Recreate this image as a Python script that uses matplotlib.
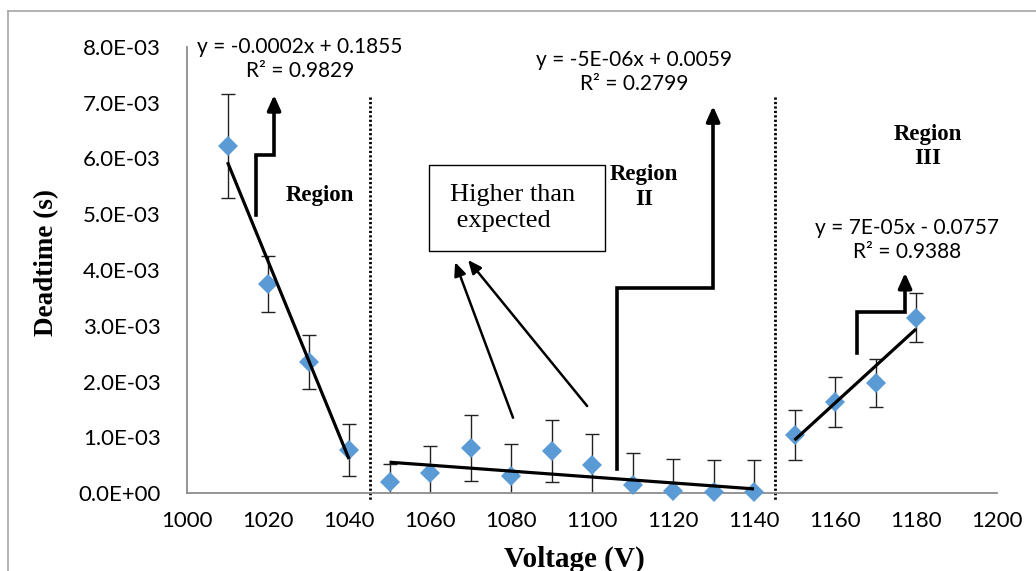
import numpy as np
import matplotlib
matplotlib.use('Agg')
import matplotlib.pyplot as plt
from matplotlib.patches import Rectangle

# voltage (V) and deadtime (s) for the three regions
volt_1 = [1010, 1020, 1030, 1040]
dead_1 = [6.22e-3, 3.75e-3, 2.35e-3, 0.77e-3]
err_1 = [0.93e-3, 0.51e-3, 0.48e-3, 0.47e-3]

volt_2 = [1050, 1060, 1070, 1080, 1090, 1100, 1110, 1120, 1130, 1140]
dead_2 = [0.20e-3, 0.36e-3, 0.81e-3, 0.31e-3, 0.75e-3, 0.50e-3, 0.14e-3, 0.04e-3, 0.01e-3, 0.01e-3]
err_2 = [0.32e-3, 0.49e-3, 0.59e-3, 0.57e-3, 0.56e-3, 0.56e-3, 0.57e-3, 0.57e-3, 0.58e-3, 0.58e-3]

volt_3 = [1150, 1160, 1170, 1180]
dead_3 = [1.04e-3, 1.63e-3, 1.97e-3, 3.14e-3]
err_3 = [0.44e-3, 0.45e-3, 0.43e-3, 0.44e-3]

eq_texts = ['y = -0.0002x + 0.1855\nR² = 0.9829',
            'y = -5E-06x + 0.0059\nR² = 0.2799',
            'y = 7E-05x - 0.0757\nR² = 0.9388']

x_ticks = list(range(1000, 1201, 20))
y_ticks = [i * 1e-3 for i in range(9)]

sans = 'Lato'
serif = 'Liberation Serif'
blue = '#5B9BD5'
grey = '#8C8C8C'

fig = plt.figure(figsize=(10.36, 5.71), dpi=100)
ax = fig.add_axes([187 / 1036, 78 / 571, 810 / 1036, 446 / 571])

# error bars + diamonds
for xs, ys, es in [(volt_1, dead_1, err_1), (volt_2, dead_2, err_2), (volt_3, dead_3, err_3)]:
    ax.errorbar(xs, ys, yerr=es, fmt='none', ecolor='#222222', elinewidth=1.0,
                capsize=5, capthick=1.0, zorder=2)
    ax.plot(xs, ys, 'D', color=blue, markersize=10.5, markeredgewidth=0, zorder=3, clip_on=False)
    # linear trendline
    k, b = np.polyfit(xs, ys, 1)
    xx = np.array([xs[0], xs[-1]])
    ax.plot(xx, k * xx + b, color='black', lw=2.3, zorder=4, solid_capstyle='butt')

# region separators
for xv in [1045.2, 1145.2]:
    ax.plot([xv, xv], [7.1e-3, -0.13e-3], color='black', lw=2.0, ls=(0, (0.8, 0.8)),
            clip_on=False, zorder=1)

ax.set_xlim(1000, 1200)
ax.set_ylim(0, 8e-3)
ax.set_xticks(x_ticks)
ax.set_xticklabels([str(v) for v in x_ticks], fontfamily=sans, fontsize=16)
ax.set_yticks(y_ticks)
ax.set_yticklabels(['%.1E' % v for v in y_ticks], fontfamily=sans, fontsize=16)
ax.tick_params(axis='both', length=0)
ax.tick_params(axis='y', pad=19)
ax.tick_params(axis='x', pad=13)
for s in ['top', 'right']:
    ax.spines[s].set_visible(False)
for s in ['left', 'bottom']:
    ax.spines[s].set_color(grey)
    ax.spines[s].set_linewidth(1.3)

fig.text(47 / 1036, 1 - 262 / 571, 'Deadtime (s)', rotation=90, ha='center', va='center',
         fontfamily=serif, fontweight='bold', fontsize=19.5)
fig.text(574 / 1036, 1 - 559 / 571, 'Voltage (V)', ha='center', va='center',
         fontfamily=serif, fontweight='bold', fontsize=21)

# outer frame (top and left edges only visible)
fig.add_artist(plt.Line2D([8 / 1036, 8 / 1036], [0, 1 - 11 / 571], color='#A6A6A6', lw=1.2,
                          transform=fig.transFigure))
fig.add_artist(plt.Line2D([8 / 1036, 1], [1 - 11 / 571, 1 - 11 / 571], color='#A6A6A6', lw=1.2,
                          transform=fig.transFigure))

# trendline equations
eq_pos = [(1027.9, 7.78e-3), (1110.4, 7.56e-3), (1177.8, 4.54e-3)]
for (ex, ey), t in zip(eq_pos, eq_texts):
    ax.text(ex, ey, t, ha='center', va='center', fontfamily=sans, fontsize=15,
            linespacing=1.25, clip_on=False)

# region labels
ax.text(1032.8, 5.33e-3, 'Region', ha='center', va='center', fontfamily=serif,
        fontweight='bold', fontsize=16.5)
ax.text(1112.8, 5.49e-3, 'Region\nII', ha='center', va='center', fontfamily=serif,
        fontweight='bold', fontsize=16.5, linespacing=1.2)
ax.text(1183.0, 6.22e-3, 'Region\nIII', ha='center', va='center', fontfamily=serif,
        fontweight='bold', fontsize=16.5, linespacing=1.2)

# "Higher than expected" box
ax.add_patch(Rectangle((1059.8, 4.34e-3), 43.4, 1.54e-3, fill=False, ec='black', lw=1.0,
                       zorder=5))
ax.text(1064.9, 5.11e-3, 'Higher than\n expected', ha='left', va='center', fontfamily=serif,
        fontsize=19, linespacing=1.22, zorder=6)

arrow = dict(arrowstyle='-|>,head_width=0.35,head_length=0.8', color='black', lw=1.8,
             shrinkA=0, shrinkB=0)
ax.annotate('', xy=(1066.2, 4.14e-3), xytext=(1080.5, 1.35e-3), arrowprops=arrow)
ax.annotate('', xy=(1069.4, 4.18e-3), xytext=(1098.8, 1.56e-3), arrowprops=arrow)

# elbow arrows pointing to the equations
elbows = [
    ([1017.0, 1017.0, 1021.5, 1021.5], [4.99e-3, 6.06e-3, 6.06e-3, 6.90e-3], 7.14e-3),
    ([1106.2, 1106.2, 1129.9, 1129.9], [0.43e-3, 3.68e-3, 3.68e-3, 6.70e-3], 6.94e-3),
    ([1165.4, 1165.4, 1177.3, 1177.3], [2.51e-3, 3.25e-3, 3.25e-3, 3.70e-3], 3.95e-3),
]
for ex, ey, tip in elbows:
    ax.plot(ex, ey, color='black', lw=2.6, solid_joinstyle='miter', zorder=5)
    ax.annotate('', xy=(ex[-1], tip), xytext=(ex[-1], ey[-1] - 0.05e-3),
                arrowprops=dict(arrowstyle='-|>,head_width=0.4,head_length=0.9',
                                color='black', lw=2.6, shrinkA=0, shrinkB=0))

fig.savefig('out.png', dpi=100)
